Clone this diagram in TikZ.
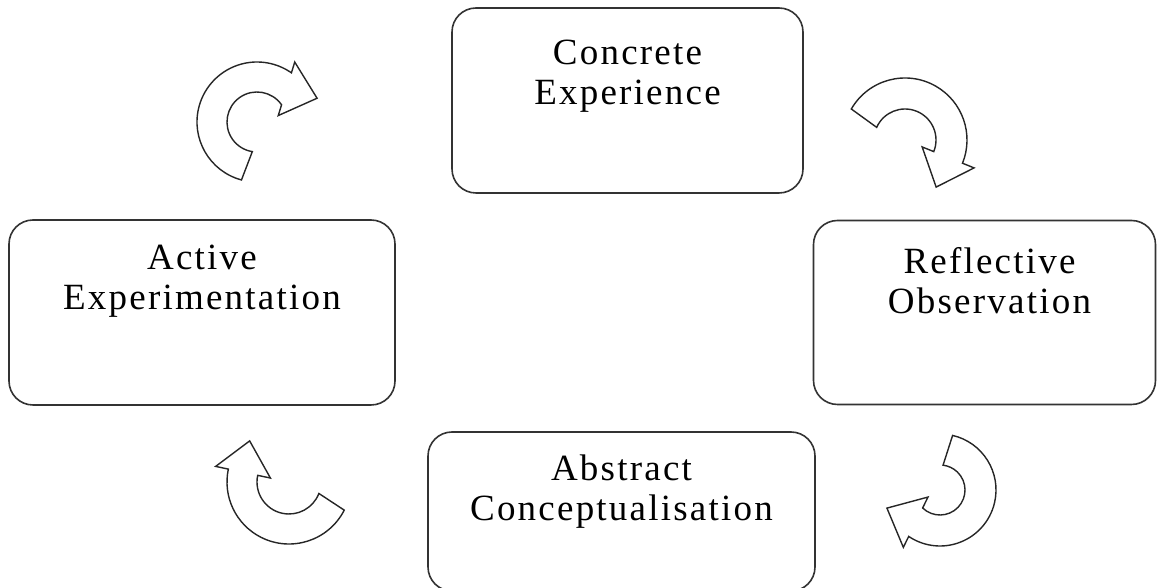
\documentclass[tikz,border=0pt]{standalone}
\usepackage{fontspec}
\setmainfont{Liberation Serif}
\newfontfamily\stagefont{Liberation Serif}[LetterSpace=6]
\usetikzlibrary{positioning,calc}

\begin{document}
\begin{tikzpicture}[x=1pt,y=1pt,
		stage/.style={draw=black!80,line width=1.6pt,rounded corners=24pt,fill=white},
		stagetext/.style={inner sep=0pt,align=center,font=\stagefont\fontsize{37}{40}\selectfont},
		turn/.style={draw=black!85,line width=1.4pt,fill=white,line join=miter}]
	\useasboundingbox (0,0) rectangle (1159,588);
	% Define the four stages
	\node[stage,minimum width=351pt,minimum height=185pt] (concrete) at (627.5,487.5) {};
	\node[stage,minimum width=342pt,minimum height=184pt] (reflective) at (984.5,275.5) {};
	\node[stage,minimum width=387pt,minimum height=159pt] (abstract) at (621.5,76.5) {};
	\node[stage,minimum width=386pt,minimum height=185pt] (active) at (202,275.5) {};
	% Add labels to the stages
	\node[stagetext,below=33pt of concrete.north] (concrete-txt) {Concrete\\Experience};
	\node[stagetext,below=28pt of reflective.north,xshift=5pt] (reflective-txt) {Reflective\\Observation};
	\node[stagetext,below=23pt of abstract.north] (abstract-txt) {Abstract\\Conceptualisation};
	\node[stagetext,below=26pt of active.north] (active-txt) {Active\\Experimentation};
	% Curved arrows: centre, outer and inner radius, tail and head angle, tilt
	\foreach \cx/\cy/\R/\r/\a/\b/\d in {257/466/60/30/255/55/20, 905/448/62/31/150/-22/0,
		289/106/62/32/-27/-192/0, 940/98/56/25/77/-124/10}{
		\coordinate (c) at (\cx,\cy);
		\coordinate (po) at ($(c)+(\b:\R)$);
		\coordinate (pi) at ($(c)+({\b-\d}:\r)$);
		\coordinate (m) at ($(po)!0.5!(pi)$);
		\draw[turn] ($(c)+(\a:\R)$) arc[start angle=\a,end angle=\b,radius=\R]
			-- ($(m)!28pt!(po)$) -- ($(m)!32pt!-90:(po)$) -- ($(m)!28pt!(pi)$) -- (pi)
			arc[start angle={\b-\d},end angle={\a+6},radius=\r] -- cycle;
	}
\end{tikzpicture}
\end{document}
